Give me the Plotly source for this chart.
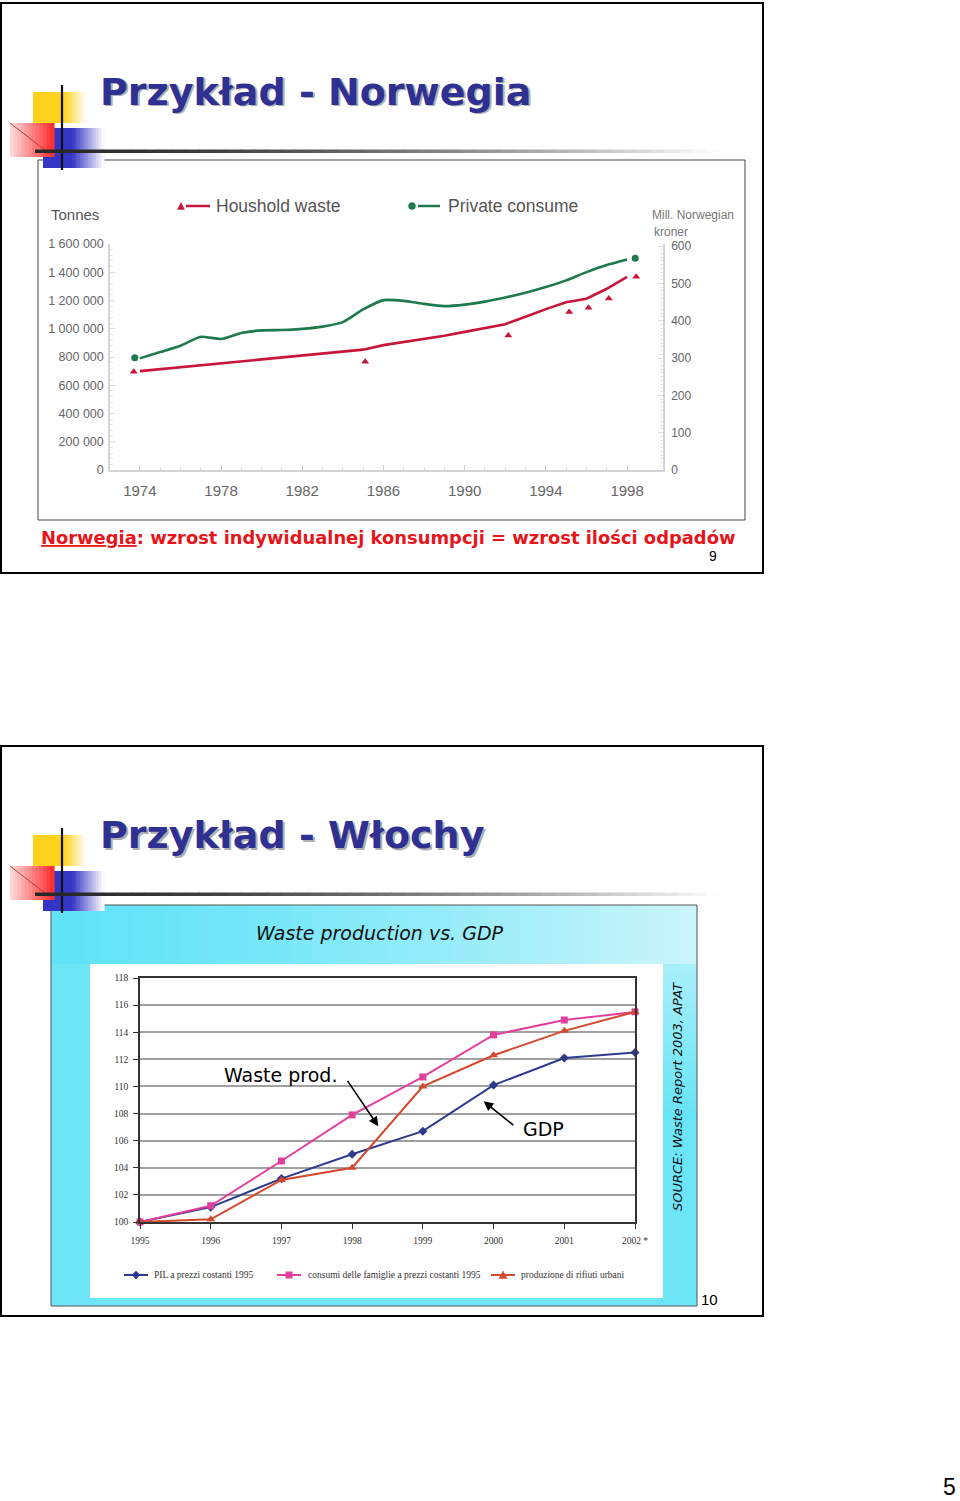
import plotly.graph_objects as go

W, H = 960, 1501

# ---------------- data ----------------
nor_years = list(range(1974, 1999))
nor_consume_mnok = [299, 316, 333, 357, 351, 367, 374, 375, 378, 384, 396, 430, 455,
                    453, 445, 439, 443, 451, 462, 475, 490, 508, 530, 549, 564]
nor_waste_tonnes = [700000, 714000, 729000, 742000, 756000, 769000, 783000, 796000,
                    811000, 824000, 838000, 852000, 884000, 905000, 928000, 951000,
                    978000, 1005000, 1032000, 1085000, 1139000, 1187000, 1213000,
                    1283000, 1368000]
nor_consume_pts_x = [1973.75, 1998.4]
nor_consume_pts_y = [301, 567]
nor_waste_pts_x = [1973.7, 1985.1, 1992.15, 1995.15, 1996.1, 1997.1, 1998.45]
nor_waste_pts_y = [695000, 766000, 952000, 1119000, 1148000, 1214000, 1369000]
nor_year_ticks = [1974, 1978, 1982, 1986, 1990, 1994, 1998]
nor_legend = ["Houshold waste", "Private consume"]

ita_years = [1995, 1996, 1997, 1998, 1999, 2000, 2001, 2002]
ita_year_labels = ["1995", "1996", "1997", "1998", "1999", "2000", "2001", "2002 *"]
ita_gdp = [100, 101.1, 103.2, 105.0, 106.7, 110.1, 112.1, 112.5]
ita_consumption = [100, 101.2, 104.5, 107.9, 110.7, 113.8, 114.9, 115.5]
ita_waste = [100, 100.2, 103.1, 104.0, 110.0, 112.3, 114.1, 115.5]
ita_legend = ["PIL a prezzi costanti 1995",
              "consumi delle famiglie a prezzi costanti 1995",
              "produzione di rifiuti urbani"]

# ---------------- styles ----------------
SANS = "Liberation Sans, Arial, sans-serif"
SERIF = "Liberation Serif, Times New Roman, serif"
DEJA = "DejaVu Sans, Verdana, sans-serif"
NOR_RED = "#C8153A"
NOR_GREEN = "#1E7A4E"
ITA_BLUE = "#2E3A8C"
ITA_PINK = "#E0409C"
ITA_RED = "#D4482C"
TITLE_BLUE = "#2E3192"

shapes = []
ann = []


def X(x):
    return x / W


def Y(y):
    return 1 - y / H


def rect(x0, y0, x1, y1, fill=None, line=None, lw=0):
    shapes.append(dict(type="rect", xref="paper", yref="paper",
                       x0=X(x0), x1=X(x1), y0=Y(y1), y1=Y(y0),
                       fillcolor=fill or "rgba(0,0,0,0)",
                       line=dict(color=line or "rgba(0,0,0,0)", width=lw),
                       layer="below"))


def seg(x0, y0, x1, y1, color, width):
    shapes.append(dict(type="line", xref="paper", yref="paper",
                       x0=X(x0), x1=X(x1), y0=Y(y0), y1=Y(y1),
                       line=dict(color=color, width=width), layer="below"))


def path(pts, color):
    d = "M " + " L ".join("%f %f" % (X(a), Y(b)) for a, b in pts) + " Z"
    shapes.append(dict(type="path", xref="paper", yref="paper", path=d,
                       fillcolor=color, line=dict(color=color, width=0.5),
                       layer="below"))


def circle(cx, cy, r, color):
    shapes.append(dict(type="circle", xref="paper", yref="paper",
                       x0=X(cx - r), x1=X(cx + r), y0=Y(cy + r), y1=Y(cy - r),
                       fillcolor=color, line=dict(color=color, width=0.5),
                       layer="below"))


def mix(c0, c1, t):
    return "rgb(%d,%d,%d)" % tuple(round(a + (b - a) * t) for a, b in zip(c0, c1))


def hgrad(x0, x1, y0, y1, c0, c1, n, power=1.0):
    w = (x1 - x0) / n
    for i in range(n):
        t = ((i + 0.5) / n) ** power
        rect(x0 + i * w, y0, x0 + (i + 1) * w + 0.6, y1, fill=mix(c0, c1, t))


def vgrad(x0, x1, y0, y1, c0, c1, n):
    h = (y1 - y0) / n
    for i in range(n):
        rect(x0, y0 + i * h, x1, y0 + (i + 1) * h + 0.6, fill=mix(c0, c1, (i + 0.5) / n))


def text(x, y, s, size, color="#000", family=SANS, xanchor="left",
         yanchor="middle", angle=0):
    ann.append(dict(xref="paper", yref="paper", x=X(x), y=Y(y), text=s,
                    showarrow=False, xanchor=xanchor, yanchor=yanchor,
                    textangle=angle,
                    font=dict(size=size, color=color, family=family)))


def decoration(dy):
    rect(33, 92 + dy, 64, 123 + dy, fill="#FFD21F")
    hgrad(64, 86, 92 + dy, 123 + dy, (255, 210, 31), (255, 255, 255), 8)
    rect(43, 128 + dy, 72, 168 + dy, fill="#3535C5")
    hgrad(72, 104, 128 + dy, 168 + dy, (53, 53, 197), (255, 255, 255), 12)
    hgrad(10, 54, 123 + dy, 157 + dy, (255, 222, 222), (255, 40, 40), 12)
    seg(10, 123 + dy, 54, 157 + dy, "#B04040", 1)
    seg(62, 85 + dy, 62, 170 + dy, "#111", 2.2)
    hgrad(35, 720, 149.5 + dy, 153 + dy, (40, 40, 40), (255, 255, 255), 50, power=1.6)


# ---------------- slide 1 (Norway) ----------------
rect(1, 3, 763, 573, line="#000", lw=2)
rect(38, 160, 745, 520, fill="white", line="#444", lw=1)
decoration(0)

text(99.5, 93.5, "<b>Przykład - Norwegia</b>", 38, "#B0B0B0", DEJA)
text(98, 92, "<b>Przykład - Norwegia</b>", 38, TITLE_BLUE, DEJA)

text(49, 215, "Tonnes", 15, "#555")
text(650, 215, "Mill. Norwegian", 12, "#777")
text(652, 232, "kroner", 12, "#777")

# legend (Norway)
path([(177.5, 209.5), (184.5, 209.5), (181, 202.5)], NOR_RED)
seg(186, 206, 210, 206, NOR_RED, 2.5)
text(214, 206, nor_legend[0], 17.5, "#555")
circle(412, 206, 3.5, NOR_GREEN)
seg(418, 206, 440, 206, NOR_GREEN, 2.5)
text(446, 206, nor_legend[1], 17.5, "#555")

text(39, 537, "<b><u>Norwegia</u>: wzrost indywidualnej konsumpcji = wzrost ilości odpadów</b>",
     17.9, "#E8141B", DEJA)
text(713, 556, "9", 14, "#000", SANS, xanchor="center")

# ---------------- slide 2 (Italy) ----------------
rect(1, 746, 763, 1316, line="#000", lw=2)
# cyan background
rect(51, 905, 697, 1306, fill="rgb(108,229,247)")
hgrad(51, 697, 905, 964, (96, 227, 247), (205, 245, 250), 40, power=1.4)
vgrad(663, 697, 964, 1120, (170, 240, 249), (100, 228, 246), 16)
rect(51, 905, 697, 1306, line="#555", lw=1)
rect(90, 964, 663, 1298, fill="white")
decoration(743)

text(99.5, 836.5, "<b>Przykład - Włochy</b>", 38, "#B0B0B0", DEJA)
text(98, 835, "<b>Przykład - Włochy</b>", 38, TITLE_BLUE, DEJA)

text(380, 933, "<i>Waste production vs. GDP</i>", 19, "#111", DEJA, xanchor="center")
text(677, 1097, "<i>SOURCE: Waste Report 2003, APAT</i>", 13, "#111", DEJA,
     xanchor="center", angle=-90)
text(709, 1299, "10", 15, "#000", SANS, xanchor="center")

# legend (Italy)
ly = 1275
seg(124, ly, 148, ly, ITA_BLUE, 2)
path([(136, ly - 4), (140, ly), (136, ly + 4), (132, ly)], ITA_BLUE)
text(152, ly, ita_legend[0], 9.5, "#333", SERIF)
seg(277, ly, 301, ly, ITA_PINK, 2)
rect(285.5, ly - 3.5, 292.5, ly + 3.5, fill=ITA_PINK)
text(306, ly, ita_legend[1], 9.5, "#333", SERIF)
seg(491, ly, 515, ly, ITA_RED, 2)
path([(499, ly + 3.5), (507, ly + 3.5), (503, ly - 4)], ITA_RED)
text(519, ly, ita_legend[2], 9.5, "#333", SERIF)

text(949, 1487, "5", 23, "#000", SANS, xanchor="center")

# ---------------- traces ----------------
fig = go.Figure()
fig.add_trace(go.Scatter(x=nor_years, y=nor_waste_tonnes, mode="lines",
                         line=dict(color=NOR_RED, width=2.6),
                         xaxis="x", yaxis="y", cliponaxis=False))
fig.add_trace(go.Scatter(x=nor_waste_pts_x, y=nor_waste_pts_y, mode="markers",
                         marker=dict(symbol="triangle-up", size=7, color=NOR_RED),
                         xaxis="x", yaxis="y", cliponaxis=False))
fig.add_trace(go.Scatter(x=nor_years, y=nor_consume_mnok, mode="lines",
                         line=dict(color=NOR_GREEN, width=2.6, shape="spline",
                                   smoothing=0.5),
                         xaxis="x", yaxis="y2", cliponaxis=False))
fig.add_trace(go.Scatter(x=nor_consume_pts_x, y=nor_consume_pts_y, mode="markers",
                         marker=dict(symbol="circle", size=7, color=NOR_GREEN),
                         xaxis="x", yaxis="y2", cliponaxis=False))

fig.add_trace(go.Scatter(x=ita_years, y=ita_gdp, mode="lines+markers",
                         line=dict(color=ITA_BLUE, width=2),
                         marker=dict(symbol="diamond", size=7, color=ITA_BLUE),
                         xaxis="x2", yaxis="y3", cliponaxis=False))
fig.add_trace(go.Scatter(x=ita_years, y=ita_consumption, mode="lines+markers",
                         line=dict(color=ITA_PINK, width=2),
                         marker=dict(symbol="square", size=7, color=ITA_PINK),
                         xaxis="x2", yaxis="y3", cliponaxis=False))
fig.add_trace(go.Scatter(x=ita_years, y=ita_waste, mode="lines+markers",
                         line=dict(color=ITA_RED, width=2),
                         marker=dict(symbol="triangle-up", size=8, color=ITA_RED),
                         xaxis="x2", yaxis="y3", cliponaxis=False))

# arrows (Italy)
ann.append(dict(xref="x2", yref="y3", axref="x2", ayref="y3",
                x=1998.37, y=107.06, ax=1997.92, ay=110.52, text="",
                showarrow=True, arrowhead=2, arrowsize=1.2, arrowwidth=1.6,
                arrowcolor="#000"))
ann.append(dict(xref="x2", yref="y3", axref="x2", ayref="y3",
                x=1999.86, y=108.91, ax=2000.30, ay=107.06, text="",
                showarrow=True, arrowhead=2, arrowsize=1.2, arrowwidth=1.6,
                arrowcolor="#000"))
text(222, 1075, "Waste prod.", 19, "#000", DEJA)
text(521, 1129, "GDP", 19, "#000", DEJA)

nor_tick_font = dict(size=12.5, color="#666", family=SANS)
fig.update_layout(
    width=W, height=H, margin=dict(l=0, r=0, t=0, b=0, pad=0, autoexpand=False),
    paper_bgcolor="white", plot_bgcolor="rgba(0,0,0,0)",
    showlegend=False, separators=". ",
    shapes=shapes, annotations=ann,
    xaxis=dict(domain=[X(110), X(663)], range=[1972.53, 1999.77], anchor="y",
               automargin=False,
               tickmode="array", tickvals=nor_year_ticks,
               ticks="inside", ticklen=5, tickcolor="#ccc", tickwidth=1,
               showline=True, linecolor="#d4d4d4", linewidth=1.5,
               showgrid=False, zeroline=False, ticklabelstandoff=6,
               tickfont=dict(size=15, color="#666", family=SANS),
               minor=dict(tickvals=nor_years, ticks="inside", ticklen=3,
                          tickcolor="#ddd")),
    yaxis=dict(domain=[Y(470), Y(244)], range=[0, 1600000], anchor="x",
               automargin=False,
               tickmode="linear", tick0=0, dtick=200000, tickformat=",d",
               ticks="inside", ticklen=5, tickcolor="#ddd",
               showline=True, linecolor="#d4d4d4", linewidth=1.5,
               showgrid=False, zeroline=False, ticklabelstandoff=2,
               tickfont=nor_tick_font,
               minor=dict(dtick=40000, ticks="inside", ticklen=3, tickcolor="#e6e6e6")),
    yaxis2=dict(overlaying="y", side="right", anchor="x", range=[0, 605.4],
                automargin=False,
                tickmode="linear", tick0=0, dtick=100,
                ticks="inside", ticklen=5, tickcolor="#ddd",
                showline=True, linecolor="#d4d4d4", linewidth=1.5,
                showgrid=False, zeroline=False, ticklabelstandoff=4,
                tickfont=dict(size=12, color="#666", family=SANS),
                minor=dict(dtick=10, ticks="inside", ticklen=3, tickcolor="#e6e6e6")),
    xaxis2=dict(domain=[X(140), X(635)], range=[1995, 2002], anchor="y3",
                automargin=False,
                tickmode="array", tickvals=ita_years, ticktext=ita_year_labels,
                ticks="outside", ticklen=5, tickcolor="#333",
                showline=True, mirror=True, linecolor="#333", linewidth=1.5,
                showgrid=False, zeroline=False, ticklabelstandoff=4,
                tickfont=dict(size=9.5, color="#333", family=SERIF)),
    yaxis3=dict(domain=[Y(1222), Y(978)], range=[100, 118], anchor="x2",
                automargin=False,
                tickmode="linear", tick0=100, dtick=2,
                ticks="outside", ticklen=5, tickcolor="#333",
                showline=True, mirror=True, linecolor="#333", linewidth=1.5,
                showgrid=True, gridcolor="#a0a0a0", gridwidth=1.5,
                zeroline=False, ticklabelstandoff=3,
                tickfont=dict(size=9.5, color="#333", family=SERIF)),
)

fig.write_html("out.html")
